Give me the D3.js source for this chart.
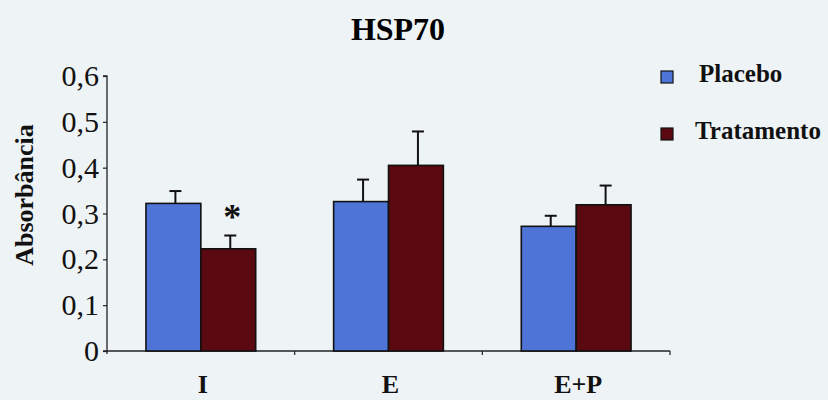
<!DOCTYPE html>
<html>
<head>
<meta charset="utf-8">
<script src="https://cdn.jsdelivr.net/npm/d3@7/dist/d3.min.js"></script>
<style>
  body { margin: 0; background: #eef3f5; }
  svg { display: block; }
  text { font-family: "Liberation Serif", "Times New Roman", Times, serif; }
</style>
</head>
<body>
<div id="chart"></div>
<script>
// Data
var categories = ["I", "E", "E+P"];
var series = ["Placebo", "Tratamento"];
var placebo = [0.322, 0.326, 0.272];
var placeboErr = [0.027, 0.048, 0.023];
var tratamento = [0.223, 0.405, 0.319];
var tratamentoErr = [0.029, 0.074, 0.042];
var yTicks = [0, 0.1, 0.2, 0.3, 0.4, 0.5, 0.6];
var colors = ["#4d74d6", "#5a0911"];

var width = 828,
    height = 400,
    serif = "Liberation Serif, Times New Roman, serif";

var svg = d3.select("#chart")
    .append("svg")
    .attr("width", width)
    .attr("height", height);

svg.append("rect")
    .attr("width", width)
    .attr("height", height)
    .attr("fill", "#eef3f5");

// Scales
var x0 = d3.scaleBand()
    .domain(categories)
    .range([107, 670])
    .padding(0);

var x1 = d3.scaleBand()
    .domain(series)
    .range([0, x0.bandwidth()])
    .paddingInner(0)
    .paddingOuter(0.71);

var y = d3.scaleLinear()
    .domain([0, 0.6])
    .range([351, 76]);

// Title
svg.append("text")
    .attr("x", 398)
    .attr("y", 40)
    .attr("text-anchor", "middle")
    .attr("font-family", serif)
    .attr("font-weight", "bold")
    .attr("font-size", 32)
    .text("HSP70");

// Y axis
var yAxis = svg.append("g")
    .attr("transform", "translate(107,0)")
    .call(d3.axisLeft(y)
        .tickValues(yTicks)
        .tickSize(4)
        .tickPadding(4)
        .tickFormat(function(d) { return d === 0 ? "0" : d.toFixed(1).replace(".", ","); }));
yAxis.attr("font-family", serif).attr("font-size", 30);
yAxis.select(".domain").attr("stroke", "#222").attr("stroke-width", 1.3).attr("d", "M-4,76H0V354");
yAxis.selectAll(".tick line").attr("stroke", "#222").attr("stroke-width", 1.2);
yAxis.selectAll(".tick text").attr("fill", "#111");

// Y axis title
svg.append("text")
    .attr("transform", "translate(33,195) rotate(-90)")
    .attr("text-anchor", "middle")
    .attr("font-family", serif)
    .attr("font-weight", "bold")
    .attr("font-size", 26)
    .attr("fill", "#111")
    .text("Absorbância");

// X axis: ticks at band boundaries, labels at band centers
var xAxisG = svg.append("g");
xAxisG.append("line")
    .attr("x1", 103).attr("x2", 670)
    .attr("y1", y(0)).attr("y2", y(0))
    .attr("stroke", "#222").attr("stroke-width", 1.5);
var bounds = categories.map(function(c) { return x0(c) + x0.bandwidth(); });
xAxisG.selectAll(".xtick")
    .data(bounds)
    .enter().append("line")
    .attr("x1", function(d) { return d; })
    .attr("x2", function(d) { return d; })
    .attr("y1", y(0))
    .attr("y2", y(0) + 4)
    .attr("stroke", "#222").attr("stroke-width", 1.2);
xAxisG.selectAll(".xlabel")
    .data(categories)
    .enter().append("text")
    .attr("x", function(d) { return x0(d) + x0.bandwidth() / 2 + 2; })
    .attr("y", 393)
    .attr("text-anchor", "middle")
    .attr("font-family", serif)
    .attr("font-weight", "bold")
    .attr("font-size", 26)
    .attr("fill", "#111")
    .text(function(d) { return d; });

// Bars
var values = [placebo, tratamento];
var errors = [placeboErr, tratamentoErr];

series.forEach(function(s, si) {
    var g = svg.append("g");
    categories.forEach(function(c, ci) {
        var bx = x0(c) + x1(s);
        var v = values[si][ci];
        var top = v + errors[si][ci];
        var cx = bx + x1.bandwidth() / 2 + 2;

        // error bar first so the bar outline sits over it
        g.append("line")
            .attr("x1", cx).attr("x2", cx)
            .attr("y1", y(v)).attr("y2", y(top))
            .attr("stroke", "#111").attr("stroke-width", 2);
        g.append("line")
            .attr("x1", cx - 6).attr("x2", cx + 6)
            .attr("y1", y(top)).attr("y2", y(top))
            .attr("stroke", "#111").attr("stroke-width", 2);

        g.append("rect")
            .attr("x", bx)
            .attr("y", y(v))
            .attr("width", x1.bandwidth())
            .attr("height", y(0) - y(v))
            .attr("fill", colors[si])
            .attr("stroke", "#111")
            .attr("stroke-width", 1.6);
    });
});

// Significance star over Tratamento in group I
svg.append("text")
    .attr("x", x0("I") + x1("Tratamento") + x1.bandwidth() / 2 + 4)
    .attr("y", y(tratamento[0] + tratamentoErr[0]) - 7)
    .attr("text-anchor", "middle")
    .attr("font-family", serif)
    .attr("font-weight", "bold")
    .attr("font-size", 36)
    .attr("fill", "#111")
    .text("*");

// Legend
var legend = svg.append("g");
var legendY = [71, 128];
series.forEach(function(s, i) {
    legend.append("rect")
        .attr("x", 661)
        .attr("y", legendY[i])
        .attr("width", 12)
        .attr("height", 12)
        .attr("fill", colors[i])
        .attr("stroke", "#111")
        .attr("stroke-width", 1.2);
    legend.append("text")
        .attr("x", i === 0 ? 699 : 695)
        .attr("y", legendY[i] + 11)
        .attr("font-family", serif)
        .attr("font-weight", "bold")
        .attr("font-size", 25)
        .attr("fill", "#111")
        .text(s);
});
</script>
</body>
</html>
